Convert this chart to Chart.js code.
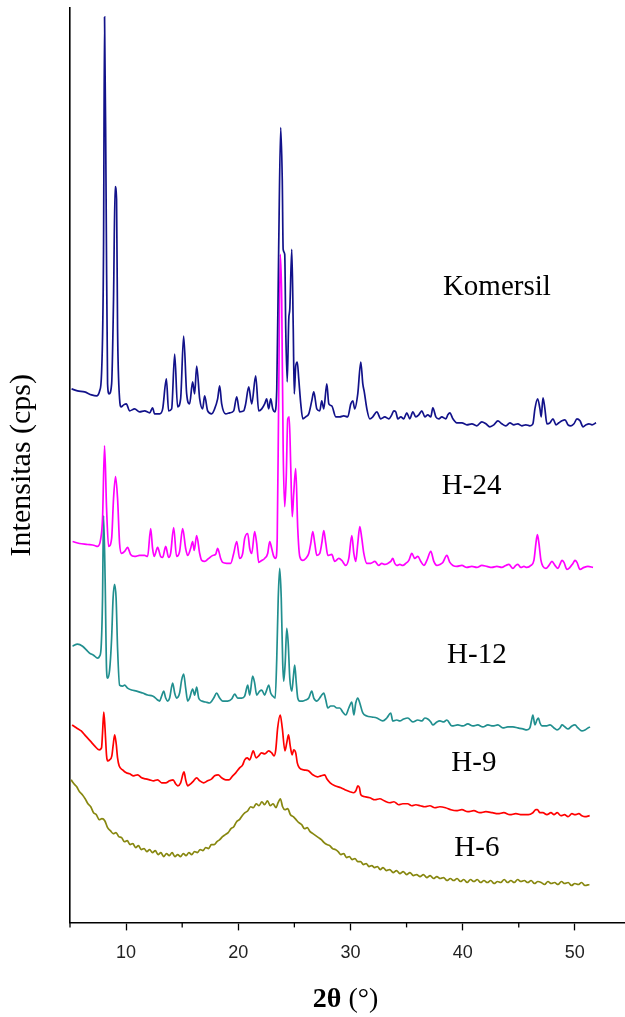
<!DOCTYPE html>
<html>
<head>
<meta charset="utf-8">
<script src="https://cdn.jsdelivr.net/npm/chart.js@4.4.1/dist/chart.umd.min.js"></script>
<style>
  body { margin: 0; background: #fff; }
  canvas { display: block; }
</style>
</head>
<body>
<canvas id="grafikXRD" width="625" height="1017"></canvas>
<script>
// data: [2theta, intensitas bertumpuk]
const komersil = [
  [5.14,535],[5.67,533],[6.30,532],[6.92,529],[7.37,528],[7.64,533],[7.81,550],[7.99,675],[8.08,908],[8.22,725],
  [8.35,540],[8.48,530],[8.71,540],[8.88,625],[9.02,738],[9.15,725],[9.24,595],[9.42,525],[9.55,517],[9.78,519],
  [10.02,520],[10.31,513],[10.76,515],[11.2,512],[11.65,513],[12.10,511],[12.36,516],[12.54,510],[12.99,510],[13.26,515],
  [13.59,545],[13.79,513],[14.06,515],[14.33,570],[14.59,517],[14.86,525],[15.13,588],[15.40,530],[15.66,520],[15.93,542],
  [16.11,530],[16.29,558],[16.56,525],[16.82,515],[17.0,528],[17.27,513],[17.63,510],[17.89,515],[18.16,525],[18.34,538],
  [18.52,520],[18.88,510],[19.23,511],[19.59,513],[19.86,527],[20.12,512],[20.48,513],[20.66,520],[20.93,537],[21.20,520],
  [21.55,548],[21.82,513],[22.09,515],[22.35,520],[22.53,525],[22.71,515],[22.89,525],[23.07,515],[23.25,512],[23.43,535],
  [23.60,675],[23.78,797],[23.92,745],[24.0,675],[24.14,670],[24.23,595],[24.36,542],[24.50,605],[24.59,615],[24.77,675],
  [24.90,595],[24.99,530],[25.12,558],[25.26,562],[25.39,545],[25.57,520],[25.75,505],[26.01,507],[26.28,510],[26.55,523],
  [26.73,532],[27.0,515],[27.26,513],[27.44,523],[27.62,515],[27.89,540],[28.07,520],[28.33,518],[28.69,507],[29.05,507],
  [29.40,508],[29.76,507],[30.03,520],[30.21,523],[30.38,515],[30.65,530],[30.92,562],[31.10,540],[31.23,532],[31.46,515],
  [31.72,505],[31.99,507],[32.35,512],[32.70,505],[33.06,507],[33.42,505],[33.68,509],[33.86,513],[34.04,512],[34.22,505],
  [34.49,507],[34.75,505],[35.02,511],[35.29,505],[35.56,512],[35.82,507],[36.09,509],[36.36,513],[36.63,507],[36.89,509],
  [37.16,507],[37.34,516],[37.61,507],[37.88,505],[38.14,507],[38.50,505],[38.68,509],[38.86,511],[39.13,505],[39.48,501],
  [39.93,501],[40.37,499],[40.82,500],[41.26,498],[41.71,502],[42.07,500],[42.42,497],[42.78,499],[43.14,503],[43.49,500],
  [43.85,498],[44.21,501],[44.56,499],[44.92,500],[45.28,498],[45.63,499],[45.99,498],[46.26,500],[46.44,515],[46.68,525],
  [46.89,515],[47.0,507],[47.16,526],[47.33,515],[47.51,500],[47.78,501],[48.05,505],[48.32,499],[48.58,501],[48.85,503],
  [49.12,504],[49.39,499],[49.65,498],[49.92,500],[50.19,505],[50.46,503],[50.73,497],[51.0,499],[51.26,500],[51.53,499],
  [51.89,501]
];

const h24 = [
  [5.23,382],[5.85,380],[6.57,379],[7.19,378],[7.46,377],[7.73,384],[7.90,405],[8.08,478],[8.26,415],[8.44,377],
  [8.71,385],[8.88,425],[9.06,447],[9.24,425],[9.42,380],[9.60,370],[9.87,372],[10.13,376],[10.40,369],[10.76,367],
  [11.20,368],[11.65,368],[11.92,367],[12.19,395],[12.36,375],[12.50,367],[12.81,376],[13.08,367],[13.26,366],[13.53,377],
  [13.79,366],[13.97,370],[14.24,396],[14.50,367],[14.77,372],[15.04,395],[15.31,375],[15.49,368],[15.75,375],[15.93,382],
  [16.07,373],[16.29,388],[16.56,370],[16.74,363],[17.0,362],[17.36,365],[17.72,368],[17.98,369],[18.16,375],[18.43,365],
  [18.61,361],[18.97,360],[19.32,360],[19.59,370],[19.86,382],[20.12,365],[20.39,370],[20.57,385],[20.84,390],[21.02,375],
  [21.20,370],[21.46,392],[21.64,380],[21.82,361],[22.09,363],[22.35,365],[22.62,370],[22.80,382],[22.98,375],[23.16,367],
  [23.34,365],[23.47,385],[23.60,525],[23.74,670],[23.87,625],[24.0,475],[24.14,417],[24.27,445],[24.41,505],[24.54,507],
  [24.68,455],[24.81,407],[24.94,430],[25.12,455],[25.30,395],[25.48,367],[25.75,363],[26.01,365],[26.28,370],[26.46,380],
  [26.64,392],[26.82,380],[27.0,368],[27.26,370],[27.44,380],[27.62,393],[27.80,380],[27.98,368],[28.33,369],[28.60,362],
  [28.96,365],[29.23,363],[29.58,358],[29.85,365],[30.12,388],[30.30,370],[30.47,362],[30.65,380],[30.83,397],[31.01,385],
  [31.19,370],[31.46,360],[31.81,360],[32.17,362],[32.52,358],[32.79,360],[33.06,359],[33.33,360],[33.59,362],[33.77,365],
  [33.95,360],[34.13,358],[34.40,359],[34.66,358],[34.93,360],[35.20,363],[35.47,370],[35.73,365],[36.0,367],[36.27,362],
  [36.54,358],[36.81,363],[37.16,372],[37.43,362],[37.70,358],[37.97,359],[38.23,361],[38.59,368],[38.86,361],[39.13,358],
  [39.48,357],[39.93,358],[40.37,356],[40.82,357],[41.26,356],[41.71,358],[42.16,357],[42.60,356],[43.05,357],[43.49,356],
  [43.85,358],[44.12,359],[44.48,355],[44.74,358],[44.92,359],[45.19,356],[45.46,357],[45.72,356],[46.08,358],[46.35,363],
  [46.53,380],[46.66,389],[46.80,380],[46.98,363],[47.16,357],[47.42,355],[47.69,358],[47.96,362],[48.23,358],[48.50,355],
  [48.67,359],[48.85,363],[49.03,361],[49.30,354],[49.56,356],[49.83,360],[50.01,363],[50.19,361],[50.46,354],[50.82,356],
  [51.17,357],[51.62,356]
];

const h12 = [
  [5.23,277],[5.67,279],[6.12,277],[6.48,273],[6.74,270],[7.10,268],[7.46,265],[7.64,267],[7.77,275],[7.90,325],
  [7.99,408],[8.13,345],[8.26,253],[8.35,245],[8.53,253],[8.71,285],[8.84,325],[8.97,339],[9.11,325],[9.24,275],
  [9.42,238],[9.69,237],[9.87,238],[10.13,235],[10.49,233],[10.94,232],[11.47,230],[11.92,228],[12.36,227],[12.63,225],
  [12.81,223],[12.99,222],[13.17,227],[13.35,232],[13.53,225],[13.70,222],[13.88,225],[14.15,240],[14.33,230],[14.50,225],
  [14.77,230],[14.95,243],[15.13,249],[15.31,235],[15.49,222],[15.66,225],[15.93,234],[16.11,228],[16.29,236],[16.47,225],
  [16.74,222],[17.09,221],[17.45,220],[17.81,225],[18.07,230],[18.34,225],[18.61,222],[19.05,222],[19.41,224],[19.68,229],
  [19.95,225],[20.30,225],[20.57,227],[20.75,235],[20.84,238],[21.02,228],[21.28,247],[21.46,240],[21.64,228],[21.91,232],
  [22.09,233],[22.35,228],[22.53,233],[22.71,238],[22.89,230],[23.07,227],[23.29,225],[23.43,265],[23.56,325],[23.69,355],
  [23.83,325],[23.96,260],[24.05,242],[24.18,260],[24.32,295],[24.45,280],[24.59,245],[24.77,232],[24.90,245],[25.03,258],
  [25.17,240],[25.30,225],[25.48,222],[25.75,222],[26.01,223],[26.28,225],[26.55,232],[26.73,225],[27.0,222],[27.26,225],
  [27.44,228],[27.62,230],[27.80,223],[27.98,215],[28.24,217],[28.51,217],[28.78,215],[29.05,215],[29.31,211],[29.58,208],
  [29.85,215],[30.12,221],[30.30,208],[30.47,220],[30.65,225],[30.83,220],[31.10,210],[31.46,207],[31.90,206],[32.35,205],
  [32.88,202],[33.24,205],[33.59,210],[33.77,202],[34.13,203],[34.40,202],[34.75,204],[35.11,205],[35.56,201],[36.0,203],
  [36.36,202],[36.63,205],[36.89,204],[37.16,201],[37.34,198],[37.70,201],[37.97,202],[38.32,201],[38.59,203],[39.04,197],
  [39.57,198],[40.02,197],[40.46,199],[40.91,197],[41.35,198],[41.80,196],[42.25,198],[42.69,197],[43.14,198],[43.58,195],
  [44.03,196],[44.48,196],[44.92,195],[45.37,194],[45.72,193],[45.99,195],[46.13,202],[46.26,208],[46.44,198],[46.62,203],
  [46.75,205],[46.89,200],[47.07,197],[47.42,197],[47.78,198],[48.14,195],[48.41,193],[48.67,195],[48.85,198],[49.12,196],
  [49.39,194],[49.74,197],[50.01,198],[50.28,195],[50.63,192],[50.90,193],[51.17,195],[51.35,196]
];

const h9 = [
  [5.19,198],[5.59,195],[6.00,192],[6.39,187],[6.80,182],[7.19,177],[7.60,173],[7.81,175],[7.90,190],[8.01,211],
  [8.12,195],[8.26,167],[8.35,162],[8.53,163],[8.73,167],[8.84,177],[8.98,188],[9.11,180],[9.24,165],[9.38,157],
  [9.69,153],[10.02,150],[10.31,149],[10.67,147],[11.03,148],[11.38,145],[11.74,144],[12.10,143],[12.45,142],[12.81,143],
  [13.17,140],[13.53,140],[13.88,142],[14.19,143],[14.41,139],[14.61,137],[14.86,140],[15.16,151],[15.31,143],[15.49,137],
  [15.75,139],[16.02,142],[16.29,145],[16.56,142],[16.91,140],[17.27,142],[17.63,144],[17.89,147],[18.21,148],[18.52,145],
  [18.88,143],[19.18,143],[19.50,147],[19.77,150],[20.12,155],[20.39,158],[20.57,163],[20.79,165],[21.02,163],[21.33,172],
  [21.59,165],[21.82,167],[22.07,170],[22.36,169],[22.71,172],[22.98,170],[23.19,167],[23.34,173],[23.51,195],[23.74,208],
  [23.92,195],[24.16,172],[24.32,180],[24.48,188],[24.63,177],[24.80,168],[24.94,173],[25.12,170],[25.26,160],[25.44,155],
  [25.84,153],[26.25,152],[26.64,148],[27.06,146],[27.36,147],[27.71,148],[27.89,144],[28.19,140],[28.61,137],[29.15,135],
  [29.50,133],[29.95,131],[30.28,130],[30.48,132],[30.66,137],[30.80,135],[30.92,128],[31.29,126],[31.72,125],[32.18,123],
  [32.62,124],[33.0,122],[33.51,120],[33.87,121],[34.29,118],[34.67,119],[35.09,119],[35.47,117],[35.83,118],[36.22,117],
  [36.63,116],[37.08,117],[37.52,115],[37.97,116],[38.47,115],[38.95,113],[39.43,112],[39.93,113],[40.46,111],[41.0,112],
  [41.53,110],[42.07,111],[42.64,110],[43.14,109],[43.67,110],[44.21,108],[44.74,109],[45.28,108],[45.86,108],[46.26,110],
  [46.53,113],[46.66,113],[46.89,110],[47.15,110],[47.51,108],[47.87,110],[48.14,108],[48.43,110],[48.76,107],[49.08,108],
  [49.39,106],[49.74,109],[50.01,108],[50.36,109],[50.63,107],[50.90,106],[51.32,107]
];

const h6 = [
  [5.10,143],[5.35,139],[5.60,136],[5.85,131],[6.10,128],[6.35,124],[6.60,119],[6.85,116],[7.10,110],[7.35,108],
  [7.60,103],[7.85,104],[8.10,102],[8.35,95],[8.60,92],[8.85,89],[9.10,90],[9.35,86],[9.60,85],[9.85,81],
  [10.10,82],[10.35,78],[10.60,79],[10.85,75],[11.10,77],[11.35,73],[11.60,74],[11.85,71],[12.10,73],[12.35,70],
  [12.60,72],[12.85,68],[13.10,70],[13.35,66],[13.60,69],[13.85,67],[14.10,70],[14.35,66],[14.60,68],[14.85,66],
  [15.10,69],[15.35,67],[15.60,70],[15.85,68],[16.10,71],[16.35,70],[16.60,73],[16.85,72],[17.10,75],[17.35,74],
  [17.60,78],[17.85,78],[18.10,81],[18.35,83],[18.60,86],[18.85,88],[19.10,90],[19.35,94],[19.60,96],[19.85,101],
  [20.10,103],[20.35,107],[20.60,110],[20.85,112],[21.10,116],[21.35,115],[21.60,119],[21.85,117],[22.10,121],[22.35,118],
  [22.60,122],[22.85,117],[23.10,119],[23.35,115],[23.55,120],[23.75,124],[23.95,116],[24.15,113],[24.40,114],[24.65,108],
  [24.90,106],[25.15,103],[25.40,100],[25.65,98],[25.90,94],[26.15,95],[26.40,91],[26.65,89],[26.90,87],[27.15,85],
  [27.40,83],[27.65,80],[27.90,78],[28.15,77],[28.40,74],[28.65,73],[28.90,71],[29.15,68],[29.40,69],[29.65,65],
  [29.90,66],[30.15,63],[30.40,64],[30.65,61],[30.90,61],[31.15,58],[31.40,59],[31.65,56],[31.90,57],[32.15,55],
  [32.40,56],[32.65,53],[32.90,55],[33.20,52],[33.50,53],[33.80,50],[34.10,52],[34.40,49],[34.70,51],[35.00,48],
  [35.30,50],[35.60,47],[35.90,48],[36.20,46],[36.50,48],[36.80,45],[37.10,47],[37.40,44],[37.70,46],[38.00,44],
  [38.30,45],[38.60,42],[38.90,44],[39.20,42],[39.50,44],[39.80,41],[40.10,43],[40.40,40],[40.70,43],[41.00,41],
  [41.30,43],[41.60,40],[41.90,42],[42.20,40],[42.50,42],[42.80,39],[43.10,41],[43.40,40],[43.70,43],[44.00,40],
  [44.30,42],[44.60,40],[44.90,43],[45.20,41],[45.50,42],[45.80,40],[46.10,42],[46.40,39],[46.70,41],[47.00,40],
  [47.30,38],[47.60,41],[47.90,39],[48.20,40],[48.50,38],[48.80,41],[49.10,39],[49.40,40],[49.70,37],[50.00,39],
  [50.30,38],[50.60,40],[50.90,37],[51.30,38]
];

const tickUtama = [10, 20, 30, 40, 50];
const tickKecil = [5, 15, 25, 35, 45];

// nama sampel dan posisinya (koordinat data)
const labelSampel = [
  { teks: 'Komersil', x: 43.05, y: 637 },
  { teks: 'H-24', x: 40.8, y: 437 },
  { teks: 'H-12', x: 41.27, y: 268 },
  { teks: 'H-9', x: 41.0, y: 159 },
  { teks: 'H-6', x: 41.27, y: 74 }
];

const serif = "'Liberation Serif', 'Times New Roman', serif";

function keTitik(arr) {
  return arr.map(p => ({ x: p[0], y: p[1] }));
}

function garis(label, data, warna) {
  return {
    label: label,
    data: keTitik(data),
    borderColor: warna,
    borderWidth: 1.7,
    pointRadius: 0,
    fill: false,
    tension: 0,
    cubicInterpolationMode: 'monotone'
  };
}

// tick kecil, judul sumbu x, nama sampel
const pluginTambahan = {
  id: 'tambahan',
  afterDraw(chart) {
    const ctx = chart.ctx;
    const sx = chart.scales.x;
    const sy = chart.scales.y;
    const area = chart.chartArea;
    ctx.save();

    ctx.strokeStyle = '#000';
    ctx.lineWidth = 1.3;
    tickKecil.forEach(v => {
      const px = sx.getPixelForValue(v);
      ctx.beginPath();
      ctx.moveTo(px, area.bottom);
      ctx.lineTo(px, area.bottom + 5);
      ctx.stroke();
    });

    ctx.fillStyle = '#000';
    ctx.textBaseline = 'middle';
    ctx.textAlign = 'center';
    ctx.font = '29px ' + serif;
    labelSampel.forEach(l => {
      ctx.fillText(l.teks, sx.getPixelForValue(l.x), sy.getPixelForValue(l.y));
    });

    // judul sumbu x: "2θ" tebal, "(°)" biasa
    const bagian1 = '2θ';
    const bagian2 = ' (°)';
    ctx.font = 'bold 28px ' + serif;
    const w1 = ctx.measureText(bagian1).width;
    ctx.font = '28px ' + serif;
    const w2 = ctx.measureText(bagian2).width;
    const cx = (area.left + area.right) / 2 - 2;
    const x0 = cx - (w1 + w2) / 2;
    ctx.textAlign = 'left';
    ctx.font = 'bold 28px ' + serif;
    ctx.fillText(bagian1, x0, 1000);
    ctx.font = '28px ' + serif;
    ctx.fillText(bagian2, x0 + w1, 1000);

    ctx.restore();
  }
};

const ctx = document.getElementById('grafikXRD').getContext('2d');

new Chart(ctx, {
  type: 'line',
  data: {
    datasets: [
      garis('Komersil', komersil, '#12128a'),
      garis('H-24', h24, '#ff00ff'),
      garis('H-12', h12, '#218f8f'),
      garis('H-9', h9, '#ff0000'),
      garis('H-6', h6, '#87870f')
    ]
  },
  options: {
    responsive: false,
    animation: false,
    layout: { padding: { left: 0, top: 8, right: 0, bottom: 41 } },
    plugins: {
      legend: { display: false },
      tooltip: { enabled: false }
    },
    scales: {
      x: {
        type: 'linear',
        min: 5,
        max: 54.47,
        afterBuildTicks: scale => {
          scale.ticks = tickUtama.map(v => ({ value: v }));
        },
        grid: {
          drawOnChartArea: false,
          drawTicks: true,
          tickLength: 8,
          tickColor: '#000',
          tickWidth: 1.3
        },
        border: { display: true, color: '#000', width: 1.6 },
        ticks: {
          maxRotation: 0,
          padding: 12,
          color: '#222',
          font: { family: "'Liberation Sans', Arial, sans-serif", size: 18 }
        },
        title: { display: false }
      },
      y: {
        min: 0,
        max: 917,
        grid: { drawOnChartArea: false, drawTicks: false },
        border: { display: true, color: '#000', width: 1.6 },
        ticks: { display: false },
        title: {
          display: true,
          text: 'Intensitas (cps)',
          color: '#000',
          font: { family: serif, size: 30, lineHeight: 1.2 },
          padding: { top: 4, bottom: 30 }
        }
      }
    }
  },
  plugins: [pluginTambahan]
});
</script>
</body>
</html>
